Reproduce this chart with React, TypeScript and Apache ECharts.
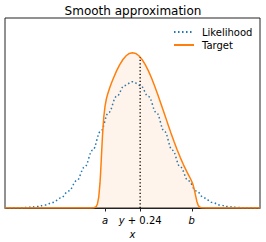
import React, { useEffect, useRef } from "react";
import * as echarts from "echarts";

const likelihoodX = [-4, -3.75, -3.5, -3.25, -3, -2.75, -2.5, -2.25, -2, -1.75, -1.5, -1.25, -1, -0.75, -0.5, -0.25, 0, 0.25, 0.5, 0.75, 1, 1.25, 1.5, 1.75, 2, 2.25, 2.5, 2.75, 3, 3.25, 3.5, 3.75, 4];
const likelihoodY = [0.0001, 0.0004, 0.0009, 0.002, 0.0044, 0.0091, 0.0175, 0.0317, 0.054, 0.0863, 0.1295, 0.1826, 0.242, 0.3011, 0.3521, 0.3867, 0.3989, 0.3867, 0.3521, 0.3011, 0.242, 0.1826, 0.1295, 0.0863, 0.054, 0.0317, 0.0175, 0.0091, 0.0044, 0.002, 0.0009, 0.0004, 0.0001];

const targetX = [-4, -2, -1.3, -1.2, -1.14, -1.1, -1.06, -1.02, -1.0, -0.98, -0.96, -0.94, -0.9, -0.86, -0.82, -0.78, -0.72, -0.66, -0.6, -0.5, -0.4, -0.3, -0.2, -0.1, 0, 0.1, 0.2, 0.3, 0.4, 0.5, 0.6, 0.7, 0.8, 0.9, 1.0, 1.1, 1.2, 1.3, 1.4, 1.5, 1.6, 1.7, 1.76, 1.82, 1.86, 1.9, 1.94, 1.98, 2.02, 2.06, 2.1, 2.16, 2.3, 4];
const targetY = [0, 0, 0, 0.001, 0.0046, 0.0127, 0.0333, 0.0784, 0.1123, 0.1518, 0.1926, 0.2306, 0.2882, 0.3228, 0.3442, 0.3595, 0.378, 0.3946, 0.4097, 0.433, 0.4529, 0.469, 0.4808, 0.4882, 0.4905, 0.4882, 0.4808, 0.469, 0.4529, 0.433, 0.4097, 0.384, 0.3562, 0.3272, 0.2976, 0.268, 0.2388, 0.2108, 0.1841, 0.1592, 0.1364, 0.1155, 0.104, 0.0923, 0.0837, 0.073, 0.0581, 0.0388, 0.0205, 0.0087, 0.0032, 0.0007, 0, 0];

const markerX = 0.24;
const markerTop = 0.4766;

const tickValues = [-0.86, 0.24, 1.86];
const tickLabels = ["{i|a}", "{i|y}{n| + 0.24}", "{i|b}"];

const FONT = "DejaVu Sans";

export default function App() {
  const ref = useRef<HTMLDivElement>(null);
  useEffect(() => {
    const chart = echarts.init(ref.current!, null, { renderer: "svg" });
    chart.setOption({
      animation: false,
      title: {
        text: "Smooth approximation",
        left: "center",
        top: 0,
        textStyle: { fontFamily: FONT, fontSize: 12, fontWeight: "normal", color: "#000" },
      },
      legend: {
        data: ["Likelihood", "Target"],
        orient: "vertical",
        left: 173,
        top: 27,
        padding: 0,
        itemWidth: 20,
        itemHeight: 12,
        itemGap: 3,
        itemStyle: { opacity: 0 },
        textStyle: { fontFamily: FONT, fontSize: 10, color: "#000", padding: [0, 0, 0, 3] },
      },
      grid: {
        left: 5,
        right: 6,
        top: 18,
        bottom: 34,
        show: true,
        borderColor: "#222",
        borderWidth: 1,
        containLabel: false,
        outerBoundsMode: "none",
      },
      xAxis: {
        type: "value",
        min: -4,
        max: 4,
        name: "x",
        nameLocation: "middle",
        nameGap: 9,
        nameTextStyle: { fontFamily: FONT, fontSize: 10, fontStyle: "italic", color: "#000" },
        axisLine: { show: true, lineStyle: { color: "#222", width: 1 } },
        axisTick: { show: true, customValues: tickValues, length: 3.5, lineStyle: { color: "#222", width: 1 } },
        axisLabel: {
          show: true,
          customValues: tickValues,
          margin: 7,
          formatter: (v: number) => {
            let best = 0;
            tickValues.forEach((t, i) => {
              if (Math.abs(t - v) < Math.abs(tickValues[best] - v)) best = i;
            });
            return tickLabels[best];
          },
          rich: {
            i: { fontFamily: FONT, fontSize: 10, fontStyle: "italic", color: "#000" },
            n: { fontFamily: FONT, fontSize: 10, color: "#000" },
          },
        },
        splitLine: { show: false },
      },
      yAxis: {
        type: "value",
        min: 0,
        max: 0.6,
        axisLine: { show: false },
        axisTick: { show: false },
        axisLabel: { show: false },
        splitLine: { show: false },
      },
      series: [
        {
          name: "Likelihood",
          type: "line",
          data: likelihoodX.map((x, i) => [x, likelihoodY[i]]),
          symbol: "none",
          smooth: 0.4,
          smoothMonotone: "x",
          lineStyle: { color: "#1f77b4", width: 1.5, type: [1.5, 2.5] },
          itemStyle: { color: "#1f77b4" },
          z: 2,
        },
        {
          name: "Target",
          type: "line",
          data: targetX.map((x, i) => [x, targetY[i]]),
          symbol: "none",
          lineStyle: { color: "#ff7f0e", width: 1.5 },
          itemStyle: { color: "#ff7f0e" },
          areaStyle: { color: "rgba(255,127,14,0.12)" },
          z: 3,
        },
        {
          name: "marker",
          type: "line",
          data: [
            [markerX, 0],
            [markerX, markerTop],
          ],
          symbol: "none",
          lineStyle: { color: "#000", width: 1.3, type: [1.3, 2.2] },
          z: 4,
        },
      ],
    });
    return () => chart.dispose();
  }, []);
  return (
    <div
      ref={ref}
      style={{ position: "fixed", left: 0, top: 0, width: 266, height: 242, background: "#fff" }}
    />
  );
}
